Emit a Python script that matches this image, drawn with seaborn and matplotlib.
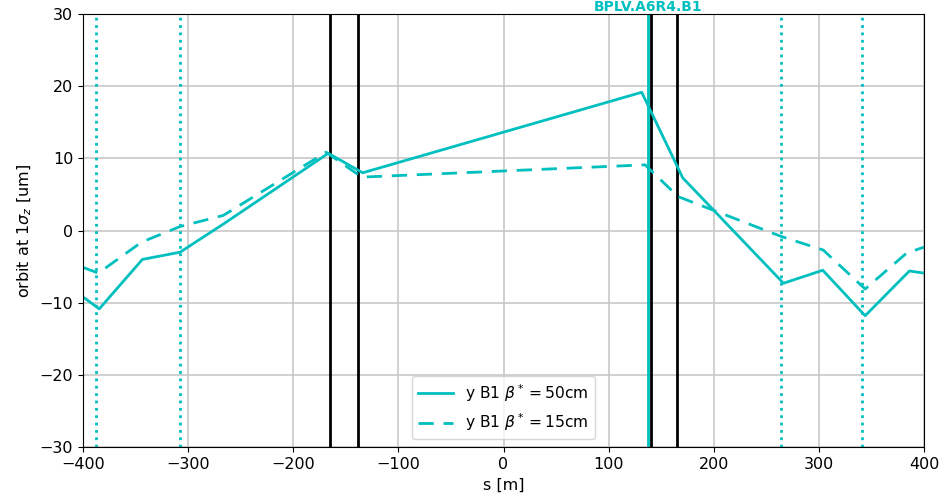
import matplotlib
matplotlib.use("Agg")
import matplotlib.pyplot as plt
import seaborn as sns
import numpy as np

# data
s_50 = [-400, -384.5, -343.5, -307.7, -266.5, -166.7, -134.0, 131.4, 170.4, 266.2, 303.6, 343.9, 386.0, 400]
y_50 = [-9.2, -10.85, -4.0, -3.0, 0.9, 10.7, 8.0, 19.15, 7.3, -7.3, -5.5, -11.8, -5.6, -5.9]

s_15 = [-400, -385.4, -344.2, -307.7, -266.5, -168.8, -134.9, 134.6, 166.0, 263.7, 304.0, 343.9, 383.5, 400]
y_15 = [-5.1, -5.9, -1.6, 0.55, 2.1, 10.85, 7.4, 9.1, 4.7, -0.8, -2.7, -8.1, -3.1, -2.3]

dotted_s = [-387.6, -307.7, 263.7, 340.7]
black_s = [-165.0, -138.0, 140.3, 164.7]
bpm_s = 137.6
bpm_name = "BPLV.A6R4.B1"

labels = [r"y B1 $\beta^*=50$cm", r"y B1 $\beta^*=15$cm"]

plt.rcParams["font.size"] = 11.5
fig = plt.figure(figsize=(9.43, 4.99), dpi=100)
ax = fig.add_axes([0.088, 0.104, 0.892, 0.868])

ax.grid(True, color="#c8c8c8", linewidth=1.2, zorder=0)
ax.set_axisbelow(True)

for xv in dotted_s:
    ax.axvline(xv, color="c", linestyle=":", linewidth=2)
for xv in black_s:
    ax.axvline(xv, color="k", linewidth=2)
ax.axvline(bpm_s, color="c", linewidth=2)

sns.lineplot(x=s_50, y=y_50, ax=ax, color="c", linewidth=2, label=labels[0], sort=False)
sns.lineplot(x=s_15, y=y_15, ax=ax, color="c", linewidth=2, linestyle="--", label=labels[1], sort=False)
ax.lines[-1].set_dashes([5.5, 3.5])

ax.annotate(bpm_name, xy=(bpm_s, 1.0), xycoords=("data", "axes fraction"),
            xytext=(0, 0.3), textcoords="offset points",
            ha="center", va="bottom", color="c", fontweight="bold", fontsize=10,
            annotation_clip=False)

ax.set_xlim(-400, 400)
ax.set_ylim(-30, 30)
ax.set_xticks(np.arange(-400, 401, 100))
ax.set_yticks(np.arange(-30, 31, 10))
ax.set_xlabel("s [m]")
ax.set_ylabel(r"orbit at $1\sigma_z$ [um]")

leg = ax.legend(loc="lower center", fontsize=11.2, handlelength=2.2)
leg.get_lines()[1].set_dashes([5.5, 3.5])

fig.savefig("out.png", dpi=100)
